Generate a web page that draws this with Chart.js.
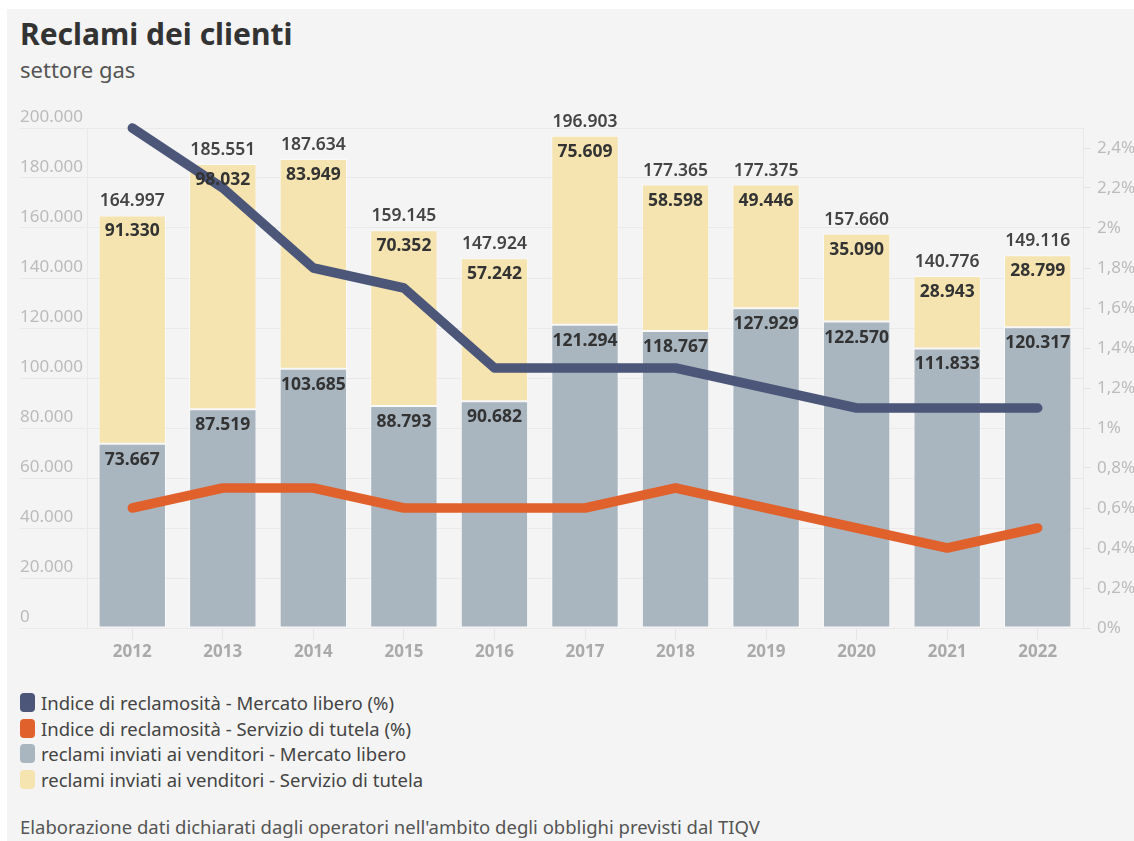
<!DOCTYPE html>
<html>
<head>
<meta charset="utf-8">
<script src="https://cdn.jsdelivr.net/npm/chart.js@4/dist/chart.umd.min.js"></script>
<style>
  html, body { margin: 0; padding: 0; background: #fff; }
  body { width: 1134px; height: 841px; position: relative; overflow: hidden; font-family: "Noto Sans", sans-serif; }
  #panel { position: absolute; left: 7px; top: 9px; right: 0; bottom: 0; background: #f4f4f4; }
  #title { position: absolute; left: 20px; top: 13px; font-size: 30px; font-weight: 700; color: #333; }
  #sub { position: absolute; left: 20px; top: 54px; font-size: 22px; color: #555; }
  #wrap { position: absolute; left: 0; top: 90px; width: 1134px; height: 580px; }
  #legend { position: absolute; left: 20px; top: 690px; font-size: 18.5px; color: #444; }
  .item { height: 25.5px; display: flex; align-items: center; }
  .sw { width: 15px; height: 19px; border-radius: 4px; margin-right: 6px; }
  #note { position: absolute; left: 20px; top: 814px; font-size: 18.5px; color: #555; }
</style>
</head>
<body>
<div id="panel"></div>
<div id="title">Reclami dei clienti</div>
<div id="sub">settore gas</div>
<div id="wrap"><canvas id="myChart"></canvas></div>
<div id="legend"></div>
<div id="note">Elaborazione dati dichiarati dagli operatori nell'ambito degli obblighi previsti dal TIQV</div>
<script>
'use strict';

const years = ['2012', '2013', '2014', '2015', '2016', '2017', '2018', '2019', '2020', '2021', '2022'];
const liberoReclami = [73667, 87519, 103685, 88793, 90682, 121294, 118767, 127929, 122570, 111833, 120317];
const tutelaReclami = [91330, 98032, 83949, 70352, 57242, 75609, 58598, 49446, 35090, 28943, 28799];
const liberoIndice = [2.5, 2.2, 1.8, 1.7, 1.3, 1.3, 1.3, 1.2, 1.1, 1.1, 1.1];
const tutelaIndice = [0.6, 0.7, 0.7, 0.6, 0.6, 0.6, 0.7, 0.6, 0.5, 0.4, 0.5];
const leftTicks = [0, 20000, 40000, 60000, 80000, 100000, 120000, 140000, 160000, 180000, 200000];
const rightTicks = [0, 0.2, 0.4, 0.6, 0.8, 1, 1.2, 1.4, 1.6, 1.8, 2, 2.2, 2.4];

const names = [
    'Indice di reclamosità - Mercato libero (%)',
    'Indice di reclamosità - Servizio di tutela (%)',
    'reclami inviati ai venditori - Mercato libero',
    'reclami inviati ai venditori - Servizio di tutela'
];
const colors = ['#4b5679', '#e0612b', '#a9b5bf', '#f5e4af'];

const fmt = n => String(n).replace(/\B(?=(\d{3})+(?!\d))/g, '.');
const fmtPct = v => {
    let s = (Math.round(v * 10) / 10).toString().replace('.', ',');
    return s + '%';
};

// html legend, one per row
const legend = document.getElementById('legend');
names.forEach((n, i) => {
    legend.innerHTML += `<div class="item"><span class="sw" style="background:${colors[i]}"></span>${n}</div>`;
});

const FONT = '"Noto Sans", sans-serif';

// value labels on bars + totals
const barLabels = {
    id: 'barLabels',
    afterDatasetsDraw(chart) {
        const ctx = chart.ctx;
        ctx.save();
        ctx.textAlign = 'center';
        ctx.textBaseline = 'middle';
        const libMeta = chart.getDatasetMeta(2);
        const tutMeta = chart.getDatasetMeta(3);
        years.forEach((y, i) => {
            const a = libMeta.data[i], b = tutMeta.data[i];
            ctx.fillStyle = '#333';
            ctx.font = 'bold 17.5px ' + FONT;
            ctx.fillText(fmt(liberoReclami[i]), a.x, a.y + 16);
            ctx.fillText(fmt(tutelaReclami[i]), b.x, b.y + 16);
            ctx.fillStyle = '#444';
            ctx.font = '600 17.5px ' + FONT;
            ctx.fillText(fmt(liberoReclami[i] + tutelaReclami[i]), b.x, b.y - 14);
        });
        ctx.restore();
    }
};

const ctx = document.getElementById('myChart');
const myChart = new Chart(ctx, {
    data: {
        labels: years,
        datasets: [
            {
                type: 'line', label: names[0], data: liberoIndice, yAxisID: 'y1', order: 0, clip: false,
                borderColor: colors[0], borderWidth: 9.5, pointRadius: 0,
                borderCapStyle: 'round', borderJoinStyle: 'round', tension: 0
            },
            {
                type: 'line', label: names[1], data: tutelaIndice, yAxisID: 'y1', order: 0, clip: false,
                borderColor: colors[1], borderWidth: 9.5, pointRadius: 0,
                borderCapStyle: 'round', borderJoinStyle: 'round', tension: 0
            },
            {
                type: 'bar', label: names[2], data: liberoReclami, yAxisID: 'y', stack: 's', order: 1,
                backgroundColor: colors[2], borderColor: 'rgba(255,255,255,0.55)', borderWidth: 1,
                borderSkipped: false, barPercentage: 0.8, categoryPercentage: 0.93
            },
            {
                type: 'bar', label: names[3], data: tutelaReclami, yAxisID: 'y', stack: 's', order: 1,
                backgroundColor: colors[3], borderColor: 'rgba(255,255,255,0.55)', borderWidth: 1,
                borderSkipped: false, barPercentage: 0.8, categoryPercentage: 0.93
            }
        ]
    },
    options: {
        responsive: true,
        maintainAspectRatio: false,
        animation: false,
        layout: { padding: { left: 20, right: 0, top: 38, bottom: 0 } },
        plugins: { legend: { display: false }, tooltip: { enabled: false } },
        scales: {
            x: {
                stacked: true,
                afterFit: s => { s.height = 42; },
                grid: { display: true, offset: false, drawOnChartArea: false, tickLength: 12, color: '#e6e6e6' },
                border: { display: false },
                ticks: { color: '#aaa', font: { family: FONT, size: 17, weight: 'bold' }, padding: 2 }
            },
            y: {
                stacked: true,
                position: 'left',
                min: 0, max: 200000,
                afterFit: s => { s.width = 67; },
                afterBuildTicks: s => { s.ticks = leftTicks.map(v => ({ value: v })); },
                grid: { color: '#e9e9e9', tickLength: 67, drawTicks: true },
                border: { display: true, color: '#e9e9e9' },
                ticks: {
                    crossAlign: 'far', labelOffset: -11,
                    color: '#bbb', font: { family: FONT, size: 17 },
                    callback: v => fmt(v)
                }
            },
            y1: {
                position: 'right',
                min: 0, max: 2.5,
                afterFit: s => { s.width = 51; },
                afterBuildTicks: s => { s.ticks = rightTicks.map(v => ({ value: v })); },
                grid: { drawOnChartArea: false, tickLength: 8, color: '#e2e2e2' },
                border: { display: true, color: '#e9e9e9' },
                ticks: {
                    color: '#bbb', font: { family: FONT, size: 17 }, padding: 6,
                    callback: v => fmtPct(v)
                }
            }
        }
    },
    plugins: [barLabels]
});
</script>
</body>
</html>
